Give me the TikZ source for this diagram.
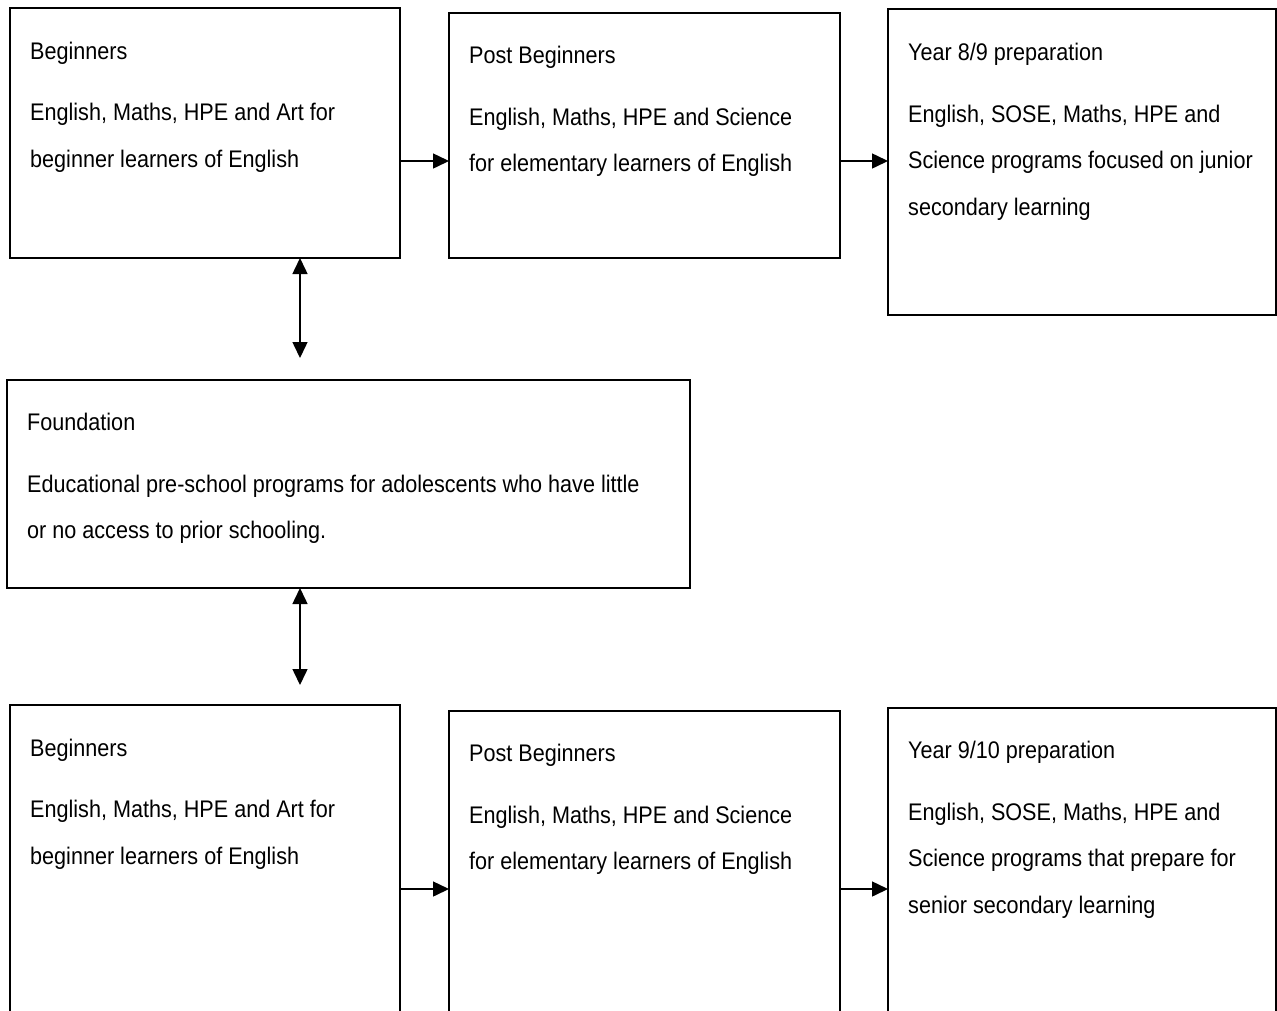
\documentclass[tikz,border=0pt]{standalone}
\usepackage{fontspec}
\setmainfont{Liberation Sans}[FakeStretch=0.9]
\usetikzlibrary{arrows.meta}
\begin{document}
\begin{tikzpicture}[x=1pt,y=-1pt,
  box/.style={draw=black,line width=1.6pt,rectangle,inner sep=0pt,outer sep=0pt,anchor=north west},
  txt/.style={anchor=north west,inner sep=0pt,align=left,font=\fontsize{24}{46.5}\selectfont,xshift=20pt,yshift=-33pt},
  arr/.style={line width=1.5pt,-{Triangle[length=16pt,width=15pt]}},
  darr/.style={line width=1.5pt,{Triangle[length=16pt,width=15pt]}-{Triangle[length=16pt,width=15pt]}}]
\clip (0,0) rectangle (1277,1010);
\fill[white] (0,0) rectangle (1277,1010);
% boxes
\node[box,minimum width=390pt,minimum height=250pt] (A) at (10,8) {};
\node[box,minimum width=391pt,minimum height=245pt] (B) at (449,13) {};
\node[box,minimum width=388pt,minimum height=306pt] (C) at (888,9) {};
\node[box,minimum width=683pt,minimum height=208pt] (Fo) at (7,380) {};
\node[box,minimum width=390pt,minimum height=340pt] (D) at (10,705) {};
\node[box,minimum width=391pt,minimum height=340pt] (E) at (449,711) {};
\node[box,minimum width=388pt,minimum height=340pt] (F) at (888,708) {};
% texts
\node[txt,yshift=-0.5pt] (At) at (A.north west) {Beginners\\[15pt]English, Maths, HPE and Art for\\beginner learners of English};
\node[txt] (Bt) at (B.north west) {Post Beginners\\[15pt]English, Maths, HPE and Science\\for elementary learners of English};
\node[txt,yshift=-1pt] (Ct) at (C.north west) {Year 8/9 preparation\\[15pt]English, SOSE, Maths, HPE and\\Science programs focused on junior\\secondary learning};
\node[txt] (Fot) at (Fo.north west) {Foundation\\[15pt]Educational pre-school programs for adolescents who have little\\or no access to prior schooling.};
\node[txt,yshift=-0.5pt] (Dt) at (D.north west) {Beginners\\[15pt]English, Maths, HPE and Art for\\beginner learners of English};
\node[txt] (Et) at (E.north west) {Post Beginners\\[15pt]English, Maths, HPE and Science\\for elementary learners of English};
\node[txt] (Ft) at (F.north west) {Year 9/10 preparation\\[15pt]English, SOSE, Maths, HPE and\\Science programs that prepare for\\senior secondary learning};
% connector helpers
\coordinate (ytop) at (0,161);
\coordinate (ybot) at (0,889);
\coordinate (xv) at (300,0);
\coordinate (v1) at (300,358);
\coordinate (v2) at (300,685);
% connectors
\draw[arr] (A.east |- ytop) -- (B.west |- ytop);
\draw[arr] (B.east |- ytop) -- (C.west |- ytop);
\draw[arr] (D.east |- ybot) -- (E.west |- ybot);
\draw[arr] (E.east |- ybot) -- (F.west |- ybot);
\draw[darr] (A.south -| xv) -- (v1);
\draw[darr] (Fo.south -| xv) -- (v2);
\end{tikzpicture}
\end{document}
